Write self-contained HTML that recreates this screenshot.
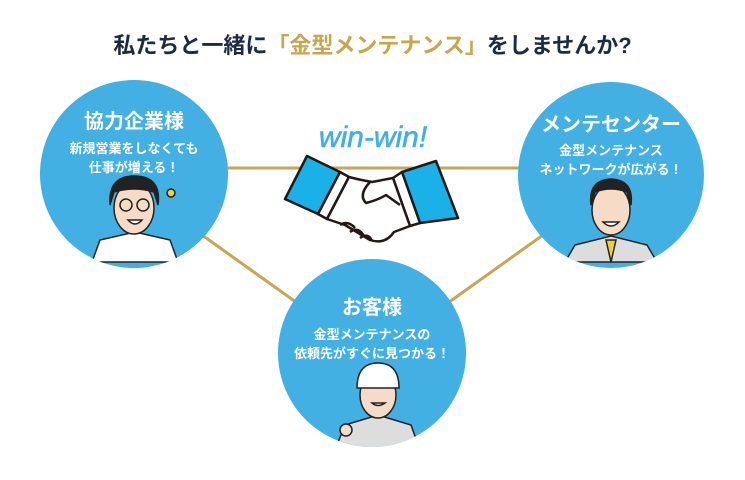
<!DOCTYPE html>
<html><head><meta charset="utf-8"><style>
body{margin:0;width:745px;height:480px;background:#fff;overflow:hidden;font-family:"Liberation Sans","Noto Sans CJK JP",sans-serif;}
.t{position:absolute;left:0;width:745px;top:28px;text-align:center;font-size:22px;font-weight:bold;color:#1c2a44;letter-spacing:0px}
.g{color:#c8a64e}
.c{position:absolute;color:#fff;text-align:center;font-weight:bold}
.c .h{font-size:20px}
.c .s{font-size:13px;line-height:19px;margin-top:5px}
</style></head><body>
<svg width="745" height="480" style="position:absolute;left:0;top:0">
<g stroke="#c7a652" stroke-width="3">
<line x1="220" y1="168" x2="525" y2="168"/>
<line x1="195" y1="230" x2="300" y2="305"/>
<line x1="550" y1="230" x2="445" y2="305"/>
</g>
<defs>
<clipPath id="c1"><circle cx="134" cy="174" r="94"/></clipPath>
<clipPath id="c2"><circle cx="611" cy="175" r="93"/></clipPath>
<clipPath id="c3"><circle cx="372" cy="353" r="94"/></clipPath>
</defs>
<circle cx="134" cy="174" r="94" fill="#42b0e2"/>
<circle cx="611" cy="175" r="93" fill="#42b0e2"/>
<circle cx="372" cy="353" r="94" fill="#42b0e2"/>
<g clip-path="url(#c1)" stroke="#222" stroke-width="1.5">
<path d="M92 262 L100 240 L135 232 L170 240 L178 262Z" fill="#fff"/>
<ellipse cx="134" cy="208" rx="20" ry="26" fill="#f6dcc6"/>
<path d="M110 205 Q108 176 134 176 Q162 176 158 205 L154 192 Q134 186 114 192Z" fill="#222"/>
<circle cx="126" cy="205" r="6" fill="none"/><circle cx="143" cy="205" r="6" fill="none"/>
<path d="M128 220 Q135 228 142 220Z" fill="#fff"/>
<circle cx="171" cy="193" r="4" fill="#f5d23a"/>
</g>
<g clip-path="url(#c2)" stroke="#222" stroke-width="1.5">
<path d="M565 262 L575 245 L611 236 L647 245 L657 262Z" fill="#ddd"/>
<path d="M606 240 L611 262 L616 240Z" fill="#f2d233"/>
<ellipse cx="611" cy="210" rx="19" ry="25" fill="#f6dcc6"/>
<path d="M591 205 Q588 180 611 179 Q634 180 631 205 L627 192 Q611 186 595 192Z" fill="#222"/>
<path d="M603 222 Q611 230 619 222Z" fill="#fff"/>
</g>
<g clip-path="url(#c3)" stroke="#222" stroke-width="1.5">
<path d="M335 450 L345 425 L378 415 L411 425 L420 450Z" fill="#ddd"/>
<ellipse cx="378" cy="395" rx="18" ry="23" fill="#f6dcc6"/>
<path d="M357 388 Q357 363 378 363 Q399 363 399 388Z" fill="#fff"/>
<path d="M372 403 Q378 408 385 403Z" fill="#fff"/>
<circle cx="346" cy="430" r="6" fill="#f6dcc6"/>
</g>
<text x="373" y="147" text-anchor="middle" font-family="Liberation Sans,sans-serif" font-style="italic" font-size="30" fill="#41b0e2" stroke="#41b0e2" stroke-width="0.6">win-win!</text>
<g stroke="#231815" stroke-width="2.5" stroke-linejoin="round">
<path d="M285 199 L307 156 L340 172 L318 214Z" fill="#1ab1e8"/>
<path d="M458 218 L436 161 L402 172 L420 223Z" fill="#1ab1e8"/>
<path d="M318 214 L340 172 L349 177 L327 219Z" fill="#fff"/>
<path d="M420 223 L402 172 L393 178 L410 226Z" fill="#fff"/>
<path d="M349 177 Q360 180 372 182 L393 178 L410 226 L394 232 Q385 245 370 240 L345 225 L327 219Z" fill="#fff"/>
<path d="M370 182 Q358 195 366 203 Q378 200 386 195 L400 205" fill="none"/>
<path d="M340 225 Q348 220 355 228 M350 232 Q358 226 364 236 M360 238 Q368 232 372 241" fill="none"/>
</g>
</svg>
<div class="t">私たちと一緒に<span class="g">「金型メンテナンス」</span>をしませんか?</div>
<div class="c" style="left:40px;width:188px;top:105px"><div class="h">協力企業様</div><div class="s">新規営業をしなくても<br>仕事が増える！</div></div>
<div class="c" style="left:518px;width:186px;top:108px"><div class="h">メンテセンター</div><div class="s" style="margin-top:4px">金型メンテナンス<br>ネットワークが広がる！</div></div>
<div class="c" style="left:278px;width:188px;top:291px"><div class="h">お客様</div><div class="s">金型メンテナンスの<br>依頼先がすぐに見つかる！</div></div>
</body></html>
